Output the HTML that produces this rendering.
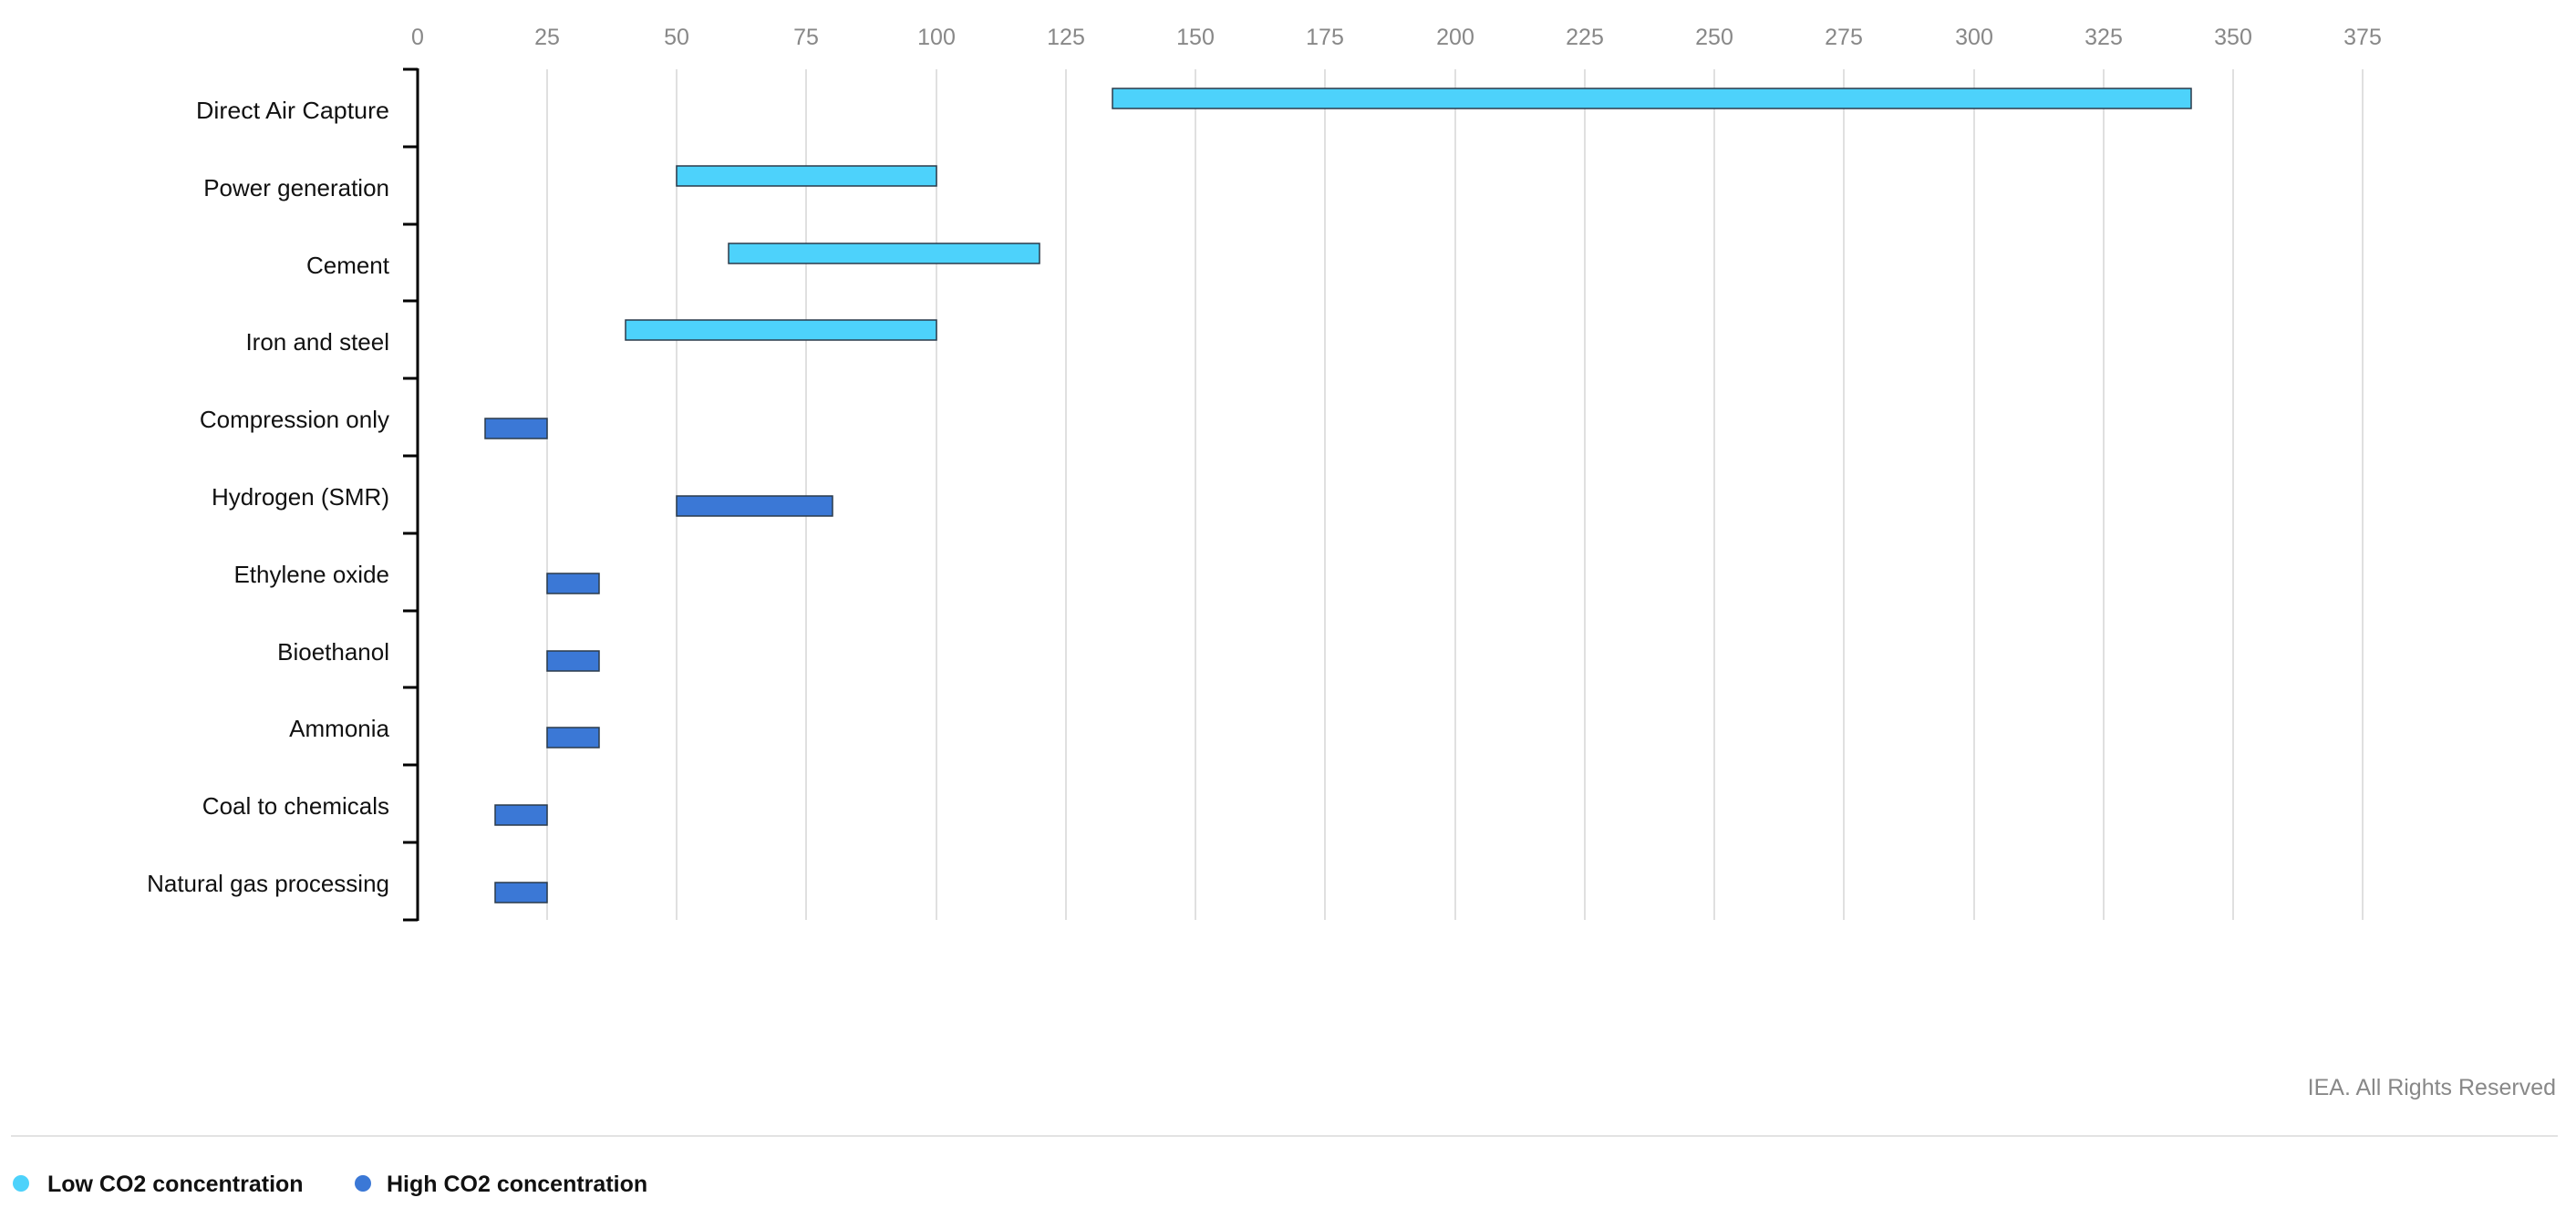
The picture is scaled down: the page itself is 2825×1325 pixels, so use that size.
<!DOCTYPE html>
<html><head><meta charset="utf-8"><style>
html,body{margin:0;padding:0;background:#fff;}
svg{display:block;font-family:"Liberation Sans",sans-serif;}
</style></head><body>
<svg width="2825" height="1325" viewBox="0 0 2825 1325" xmlns="http://www.w3.org/2000/svg">
<g id="grid" stroke="#e0e0e0" stroke-width="2">
<line x1="600" y1="76" x2="600" y2="1009"/><line x1="742" y1="76" x2="742" y2="1009"/><line x1="884" y1="76" x2="884" y2="1009"/><line x1="1027" y1="76" x2="1027" y2="1009"/><line x1="1169" y1="76" x2="1169" y2="1009"/><line x1="1311" y1="76" x2="1311" y2="1009"/><line x1="1453" y1="76" x2="1453" y2="1009"/><line x1="1596" y1="76" x2="1596" y2="1009"/><line x1="1738" y1="76" x2="1738" y2="1009"/><line x1="1880" y1="76" x2="1880" y2="1009"/><line x1="2022" y1="76" x2="2022" y2="1009"/><line x1="2165" y1="76" x2="2165" y2="1009"/><line x1="2307" y1="76" x2="2307" y2="1009"/><line x1="2449" y1="76" x2="2449" y2="1009"/><line x1="2591" y1="76" x2="2591" y2="1009"/>
</g>
<g fill="#888" font-size="25" text-anchor="middle">
<text x="458" y="49">0</text><text x="600" y="49">25</text><text x="742" y="49">50</text><text x="884" y="49">75</text><text x="1027" y="49">100</text><text x="1169" y="49">125</text><text x="1311" y="49">150</text><text x="1453" y="49">175</text><text x="1596" y="49">200</text><text x="1738" y="49">225</text><text x="1880" y="49">250</text><text x="2022" y="49">275</text><text x="2165" y="49">300</text><text x="2307" y="49">325</text><text x="2449" y="49">350</text><text x="2591" y="49">375</text>
</g>
<g stroke="#000" stroke-width="3">
<line x1="458" y1="75" x2="458" y2="1010"/>
<line x1="442" y1="76" x2="458" y2="76"/><line x1="442" y1="161" x2="458" y2="161"/><line x1="442" y1="246" x2="458" y2="246"/><line x1="442" y1="330" x2="458" y2="330"/><line x1="442" y1="415" x2="458" y2="415"/><line x1="442" y1="500" x2="458" y2="500"/><line x1="442" y1="585" x2="458" y2="585"/><line x1="442" y1="670" x2="458" y2="670"/><line x1="442" y1="754" x2="458" y2="754"/><line x1="442" y1="839" x2="458" y2="839"/><line x1="442" y1="924" x2="458" y2="924"/><line x1="442" y1="1009" x2="458" y2="1009"/>
</g>
<g fill="#111" font-size="26" text-anchor="end">
<text x="427" y="130" textLength="212" lengthAdjust="spacingAndGlyphs">Direct Air Capture</text>
<text x="427" y="215">Power generation</text>
<text x="427" y="300">Cement</text>
<text x="427" y="384">Iron and steel</text>
<text x="427" y="469">Compression only</text>
<text x="427" y="554">Hydrogen (SMR)</text>
<text x="427" y="639">Ethylene oxide</text>
<text x="427" y="724">Bioethanol</text>
<text x="427" y="808">Ammonia</text>
<text x="427" y="893">Coal to chemicals</text>
<text x="427" y="978">Natural gas processing</text>
</g>
<g stroke="#2b3a4a" stroke-width="1.5">
<rect x="1220" y="97" width="1183" height="22" fill="#4dd2fb"/>
<rect x="742" y="182" width="285" height="22" fill="#4dd2fb"/>
<rect x="799" y="267" width="341" height="22" fill="#4dd2fb"/>
<rect x="686" y="351" width="341" height="22" fill="#4dd2fb"/>
<rect x="532" y="459" width="68" height="22" fill="#3b78d6"/>
<rect x="742" y="544" width="171" height="22" fill="#3b78d6"/>
<rect x="600" y="629" width="57" height="22" fill="#3b78d6"/>
<rect x="600" y="714" width="57" height="22" fill="#3b78d6"/>
<rect x="600" y="798" width="57" height="22" fill="#3b78d6"/>
<rect x="543" y="883" width="57" height="22" fill="#3b78d6"/>
<rect x="543" y="968" width="57" height="22" fill="#3b78d6"/>
</g>
<text x="2803" y="1201" fill="#888" font-size="25" text-anchor="end">IEA. All Rights Reserved</text>
<line x1="12" y1="1246" x2="2805" y2="1246" stroke="#e3e3e3" stroke-width="2"/>
<circle cx="23" cy="1298" r="9" fill="#4dd2fb"/>
<text x="52" y="1307" font-size="25" font-weight="bold" fill="#111">Low CO2 concentration</text>
<circle cx="398" cy="1298" r="9" fill="#3b78d6"/>
<text x="424" y="1307" font-size="25" font-weight="bold" fill="#111">High CO2 concentration</text>
</svg>
</body></html>
